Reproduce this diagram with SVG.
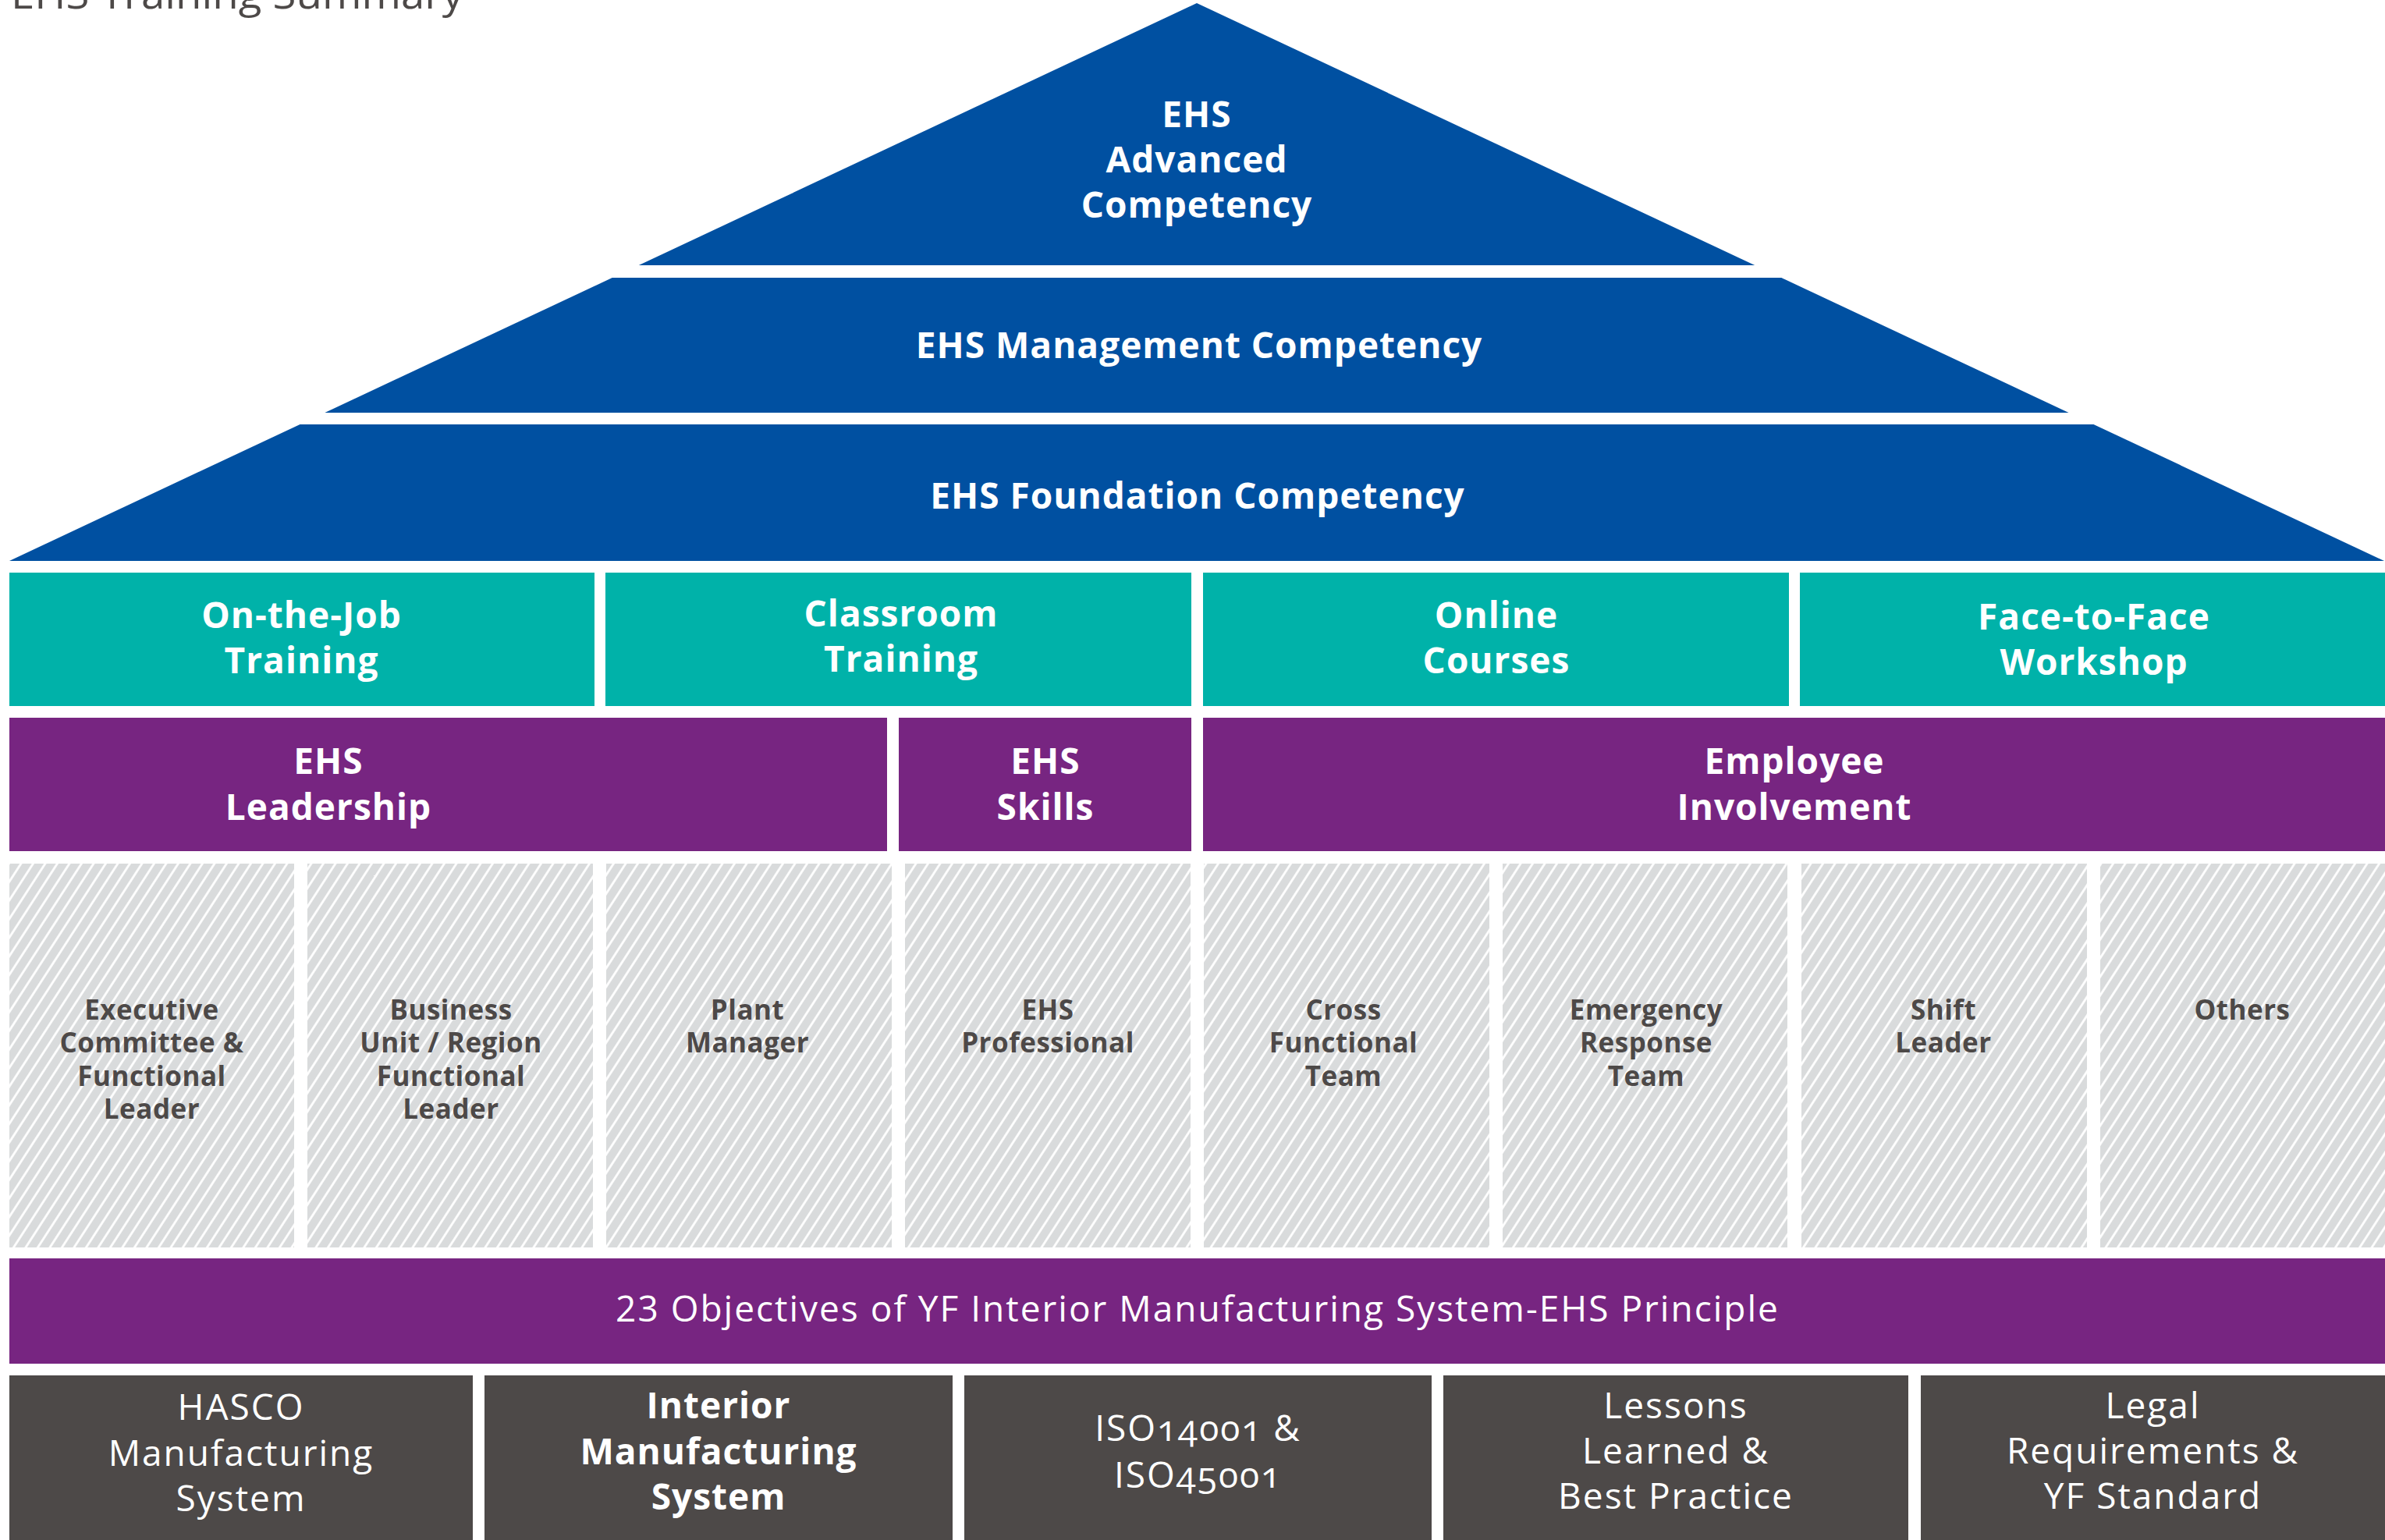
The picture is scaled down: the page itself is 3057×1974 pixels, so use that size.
<svg xmlns="http://www.w3.org/2000/svg" width="3057" height="1974" viewBox="0 0 3057 1974">
<style>
  text { font-family: "Open Sans", "Noto Sans", "Liberation Sans", sans-serif; text-anchor: middle; }
  .blue { fill: #0050a1; }
  .teal { fill: #00b2a9; }
  .purple { fill: #772581; }
  .dark { fill: #4d4948; }
  .hatch { fill: url(#hatch); }
  .wb { fill: #ffffff; font-weight: 700; font-size: 46px; letter-spacing: 1px; }
  .wr { fill: #ffffff; font-weight: 400; font-size: 46px; letter-spacing: 2px; }
  .gl { fill: #4d4948; font-weight: 700; font-size: 35px; letter-spacing: 0.5px; }
</style>
<defs>
  <pattern id="hatch" patternUnits="userSpaceOnUse" width="13" height="13" patternTransform="rotate(33)">
    <rect x="0" y="0" width="13" height="13" fill="#d9dbdc"/>
    <line x1="1.5" y1="0" x2="1.5" y2="13" stroke="#ffffff" stroke-width="2.8"/>
  </pattern>
</defs>
<rect x="0" y="0" width="3057" height="1974" fill="#ffffff"/>

<g id="title">
  <text x="14" y="11" style="text-anchor:start; fill:#4d4948; font-size:52px; font-weight:500" textLength="580" lengthAdjust="spacingAndGlyphs">EHS Training Summary</text>
</g>

<g id="pyramid-advanced">
  <polygon class="blue" points="1534,4 2249.2,340 818.8,340"/>
  <text class="wb" x="1534" y="163">EHS</text>
  <text class="wb" x="1534" y="221">Advanced</text>
  <text class="wb" x="1534" y="279">Competency</text>
</g>
<g id="pyramid-management">
  <polygon class="blue" points="784.7,356 2283.3,356 2651.6,529 416.4,529"/>
  <text class="wb" x="1537" y="459">EHS Management Competency</text>
</g>
<g id="pyramid-foundation">
  <polygon class="blue" points="384.5,544 2683.5,544 3056,719 12,719"/>
  <text class="wb" x="1535" y="652">EHS Foundation Competency</text>
</g>

<g id="method-on-the-job">
  <rect class="teal" x="12" y="734" width="750" height="171"/>
  <text class="wb" x="386.5" y="805">On-the-Job</text>
  <text class="wb" x="386.5" y="863">Training</text>
</g>
<g id="method-classroom">
  <rect class="teal" x="776" y="734" width="751" height="171"/>
  <text class="wb" x="1155" y="803">Classroom</text>
  <text class="wb" x="1155" y="861">Training</text>
</g>
<g id="method-online">
  <rect class="teal" x="1542" y="734" width="751" height="171"/>
  <text class="wb" x="1918" y="805">Online</text>
  <text class="wb" x="1918" y="863">Courses</text>
</g>
<g id="method-face-to-face">
  <rect class="teal" x="2307" y="734" width="750" height="171"/>
  <text class="wb" x="2684" y="807">Face-to-Face</text>
  <text class="wb" x="2684" y="865">Workshop</text>
</g>

<g id="cat-leadership">
  <rect class="purple" x="12" y="920" width="1125" height="171"/>
  <text class="wb" x="421" y="992">EHS</text>
  <text class="wb" x="421" y="1051">Leadership</text>
</g>
<g id="cat-skills">
  <rect class="purple" x="1152" y="920" width="375" height="171"/>
  <text class="wb" x="1340" y="992">EHS</text>
  <text class="wb" x="1340" y="1051">Skills</text>
</g>
<g id="cat-involvement">
  <rect class="purple" x="1542" y="920" width="1515" height="171"/>
  <text class="wb" x="2300" y="992">Employee</text>
  <text class="wb" x="2300" y="1051">Involvement</text>
</g>

<g id="role-executive">
  <rect class="hatch" x="12" y="1107" width="365" height="492"/>
  <text class="gl" x="194.5" y="1307">Executive</text>
  <text class="gl" x="194.5" y="1349">Committee &amp;</text>
  <text class="gl" x="194.5" y="1392">Functional</text>
  <text class="gl" x="194.5" y="1434">Leader</text>
</g>
<g id="role-business-unit">
  <rect class="hatch" x="394" y="1107" width="366" height="492"/>
  <text class="gl" x="578" y="1307">Business</text>
  <text class="gl" x="578" y="1349">Unit / Region</text>
  <text class="gl" x="578" y="1392">Functional</text>
  <text class="gl" x="578" y="1434">Leader</text>
</g>
<g id="role-plant-manager">
  <rect class="hatch" x="777" y="1107" width="366" height="492"/>
  <text class="gl" x="958" y="1307">Plant</text>
  <text class="gl" x="958" y="1349">Manager</text>
</g>
<g id="role-ehs-professional">
  <rect class="hatch" x="1160" y="1107" width="366" height="492"/>
  <text class="gl" x="1343" y="1307">EHS</text>
  <text class="gl" x="1343" y="1349">Professional</text>
</g>
<g id="role-cross-functional">
  <rect class="hatch" x="1543" y="1107" width="366" height="492"/>
  <text class="gl" x="1722" y="1307">Cross</text>
  <text class="gl" x="1722" y="1349">Functional</text>
  <text class="gl" x="1722" y="1392">Team</text>
</g>
<g id="role-emergency">
  <rect class="hatch" x="1926" y="1107" width="365" height="492"/>
  <text class="gl" x="2110" y="1307">Emergency</text>
  <text class="gl" x="2110" y="1349">Response</text>
  <text class="gl" x="2110" y="1392">Team</text>
</g>
<g id="role-shift-leader">
  <rect class="hatch" x="2309" y="1107" width="366" height="492"/>
  <text class="gl" x="2491" y="1307">Shift</text>
  <text class="gl" x="2491" y="1349">Leader</text>
</g>
<g id="role-others">
  <rect class="hatch" x="2692" y="1107" width="365" height="492"/>
  <text class="gl" x="2874" y="1307">Others</text>
</g>

<g id="objectives">
  <rect class="purple" x="12" y="1613" width="3045" height="135"/>
  <text class="wr" x="1535" y="1694">23 Objectives of YF Interior Manufacturing System-EHS Principle</text>
</g>

<g id="base-hasco">
  <rect class="dark" x="12" y="1763" width="594" height="211"/>
  <text class="wr" x="309" y="1820">HASCO</text>
  <text class="wr" x="309" y="1879">Manufacturing</text>
  <text class="wr" x="309" y="1937">System</text>
</g>
<g id="base-interior">
  <rect class="dark" x="621" y="1763" width="600" height="211"/>
  <text class="wb" x="921" y="1818">Interior</text>
  <text class="wb" x="921" y="1877">Manufacturing</text>
  <text class="wb" x="921" y="1935">System</text>
</g>
<g id="base-iso">
  <rect class="dark" x="1236" y="1763" width="599" height="211"/>
  <text class="wr" x="1535.5" y="1847" style="font-variant-numeric: oldstyle-nums">ISO14001 &amp;</text>
  <text class="wr" x="1535.5" y="1907" style="font-variant-numeric: oldstyle-nums">ISO45001</text>
</g>
<g id="base-lessons">
  <rect class="dark" x="1850" y="1763" width="596" height="211"/>
  <text class="wr" x="2148" y="1818">Lessons</text>
  <text class="wr" x="2148" y="1876">Learned &amp;</text>
  <text class="wr" x="2148" y="1934">Best Practice</text>
</g>
<g id="base-legal">
  <rect class="dark" x="2462" y="1763" width="595" height="211"/>
  <text class="wr" x="2759.5" y="1818">Legal</text>
  <text class="wr" x="2759.5" y="1876">Requirements &amp;</text>
  <text class="wr" x="2759.5" y="1934">YF Standard</text>
</g>

<g id="connectors"></g>
</svg>
